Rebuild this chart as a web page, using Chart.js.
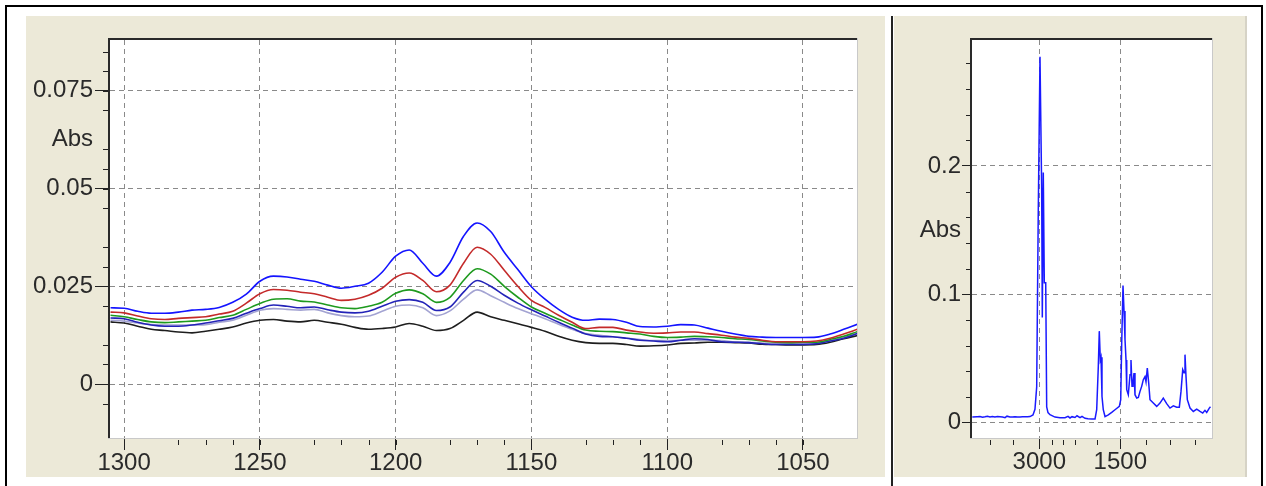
<!DOCTYPE html>
<html>
<head>
<meta charset="utf-8">
<script src="https://cdn.jsdelivr.net/npm/chart.js@4/dist/chart.umd.min.js"></script>
<style>
  body { margin: 0; background: #fff; width: 1266px; height: 486px; overflow: hidden; position: relative; }
  #frame { position: absolute; left: 5px; top: 5px; width: 1254px; height: 490px; border: 2px solid #000; }
  .panel { position: absolute; top: 16px; height: 461px; background: #ece9d8; }
  #leftPanel { left: 26px; width: 859px; }
  #rightPanel { left: 894px; width: 351px; border-right: 2px solid #d6d3c6; }
  #divider { position: absolute; left: 891px; top: 16px; width: 2px; height: 480px; background: #222; }
  canvas { position: absolute; left: 0; top: 0; }
</style>
</head>
<body>
<div id="frame"></div>
<div id="leftPanel" class="panel"><canvas id="zoomChart" width="859" height="461"></canvas></div>
<div id="divider"></div>
<div id="rightPanel" class="panel"><canvas id="fullChart" width="351" height="461"></canvas></div>
<script>
// ---- zoomed region (left pane) ----
const wavenumbers = [
  1305, 1300, 1295, 1290, 1285, 1280, 1275, 1270, 1265, 1260,
  1255, 1250, 1245, 1240, 1235, 1230, 1225, 1220, 1215, 1210,
  1205, 1200, 1195, 1190, 1185, 1180, 1175, 1170, 1165, 1160,
  1155, 1150, 1145, 1140, 1135, 1130, 1125, 1120, 1115, 1110,
  1105, 1100, 1095, 1090, 1085, 1080, 1075, 1070, 1065, 1060,
  1055, 1050, 1045, 1040, 1035, 1030
];
const absBlue = [
  0.0195, 0.0194, 0.0186, 0.0181, 0.0181, 0.0184, 0.0189, 0.0191, 0.0196, 0.0209,
  0.0230, 0.0263, 0.0276, 0.0274, 0.0268, 0.0263, 0.0253, 0.0245, 0.0250, 0.0258,
  0.0286, 0.0327, 0.0343, 0.0309, 0.0276, 0.0311, 0.0378, 0.0412, 0.0390, 0.0337,
  0.0293, 0.0249, 0.0217, 0.0191, 0.0171, 0.0163, 0.0166, 0.0165, 0.0158, 0.0147,
  0.0146, 0.0148, 0.0152, 0.0151, 0.0143, 0.0135, 0.0128, 0.0122, 0.0120, 0.0119,
  0.0119, 0.0119, 0.0120, 0.0128, 0.0140, 0.0153
];
const absRed = [
  0.0184, 0.0182, 0.0174, 0.0167, 0.0165, 0.0168, 0.0170, 0.0172, 0.0179, 0.0186,
  0.0207, 0.0231, 0.0242, 0.0240, 0.0235, 0.0231, 0.0222, 0.0214, 0.0217, 0.0227,
  0.0245, 0.0273, 0.0284, 0.0265, 0.0236, 0.0253, 0.0309, 0.0350, 0.0332, 0.0291,
  0.0250, 0.0214, 0.0196, 0.0176, 0.0158, 0.0142, 0.0145, 0.0145, 0.0138, 0.0133,
  0.0130, 0.0131, 0.0133, 0.0133, 0.0129, 0.0125, 0.0120, 0.0117, 0.0112, 0.0108,
  0.0108, 0.0108, 0.0110, 0.0117, 0.0128, 0.0140
];
const absGreen = [
  0.0176, 0.0172, 0.0165, 0.0159, 0.0157, 0.0159, 0.0161, 0.0163, 0.0170, 0.0176,
  0.0191, 0.0206, 0.0217, 0.0218, 0.0212, 0.0210, 0.0202, 0.0195, 0.0193, 0.0199,
  0.0209, 0.0232, 0.0241, 0.0231, 0.0209, 0.0222, 0.0265, 0.0295, 0.0281, 0.0250,
  0.0222, 0.0197, 0.0181, 0.0166, 0.0151, 0.0138, 0.0135, 0.0134, 0.0131, 0.0128,
  0.0122, 0.0119, 0.0120, 0.0122, 0.0121, 0.0119, 0.0116, 0.0114, 0.0110, 0.0107,
  0.0106, 0.0107, 0.0107, 0.0114, 0.0122, 0.0134
];
const absNavy = [
  0.0169, 0.0167, 0.0158, 0.0151, 0.0148, 0.0148, 0.0151, 0.0156, 0.0162, 0.0168,
  0.0181, 0.0193, 0.0202, 0.0199, 0.0195, 0.0197, 0.0190, 0.0184, 0.0182, 0.0186,
  0.0199, 0.0212, 0.0216, 0.0209, 0.0188, 0.0197, 0.0235, 0.0265, 0.0250, 0.0227,
  0.0207, 0.0190, 0.0174, 0.0158, 0.0143, 0.0128, 0.0122, 0.0121, 0.0117, 0.0112,
  0.0110, 0.0108, 0.0112, 0.0116, 0.0114, 0.0108, 0.0107, 0.0106, 0.0103, 0.0101,
  0.0101, 0.0101, 0.0103, 0.0110, 0.0117, 0.0129
];
const absLavender = [
  0.0163, 0.0161, 0.0156, 0.0152, 0.0151, 0.0151, 0.0151, 0.0152, 0.0158, 0.0163,
  0.0176, 0.0189, 0.0193, 0.0191, 0.0189, 0.0191, 0.0182, 0.0175, 0.0172, 0.0174,
  0.0186, 0.0199, 0.0202, 0.0195, 0.0175, 0.0187, 0.0217, 0.0241, 0.0226, 0.0209,
  0.0193, 0.0180, 0.0167, 0.0153, 0.0140, 0.0129, 0.0125, 0.0121, 0.0117, 0.0114,
  0.0111, 0.0111, 0.0112, 0.0112, 0.0112, 0.0111, 0.0108, 0.0107, 0.0105, 0.0104,
  0.0104, 0.0104, 0.0105, 0.0111, 0.0120, 0.0130
];
const absBlack = [
  0.0159, 0.0156, 0.0148, 0.0140, 0.0137, 0.0133, 0.0131, 0.0135, 0.0140, 0.0146,
  0.0156, 0.0163, 0.0165, 0.0161, 0.0159, 0.0163, 0.0158, 0.0153, 0.0145, 0.0140,
  0.0142, 0.0146, 0.0155, 0.0148, 0.0137, 0.0142, 0.0163, 0.0184, 0.0172, 0.0163,
  0.0154, 0.0145, 0.0135, 0.0122, 0.0112, 0.0106, 0.0104, 0.0104, 0.0101, 0.0097,
  0.0098, 0.0100, 0.0104, 0.0105, 0.0107, 0.0107, 0.0106, 0.0105, 0.0102, 0.0101,
  0.0100, 0.0100, 0.0101, 0.0107, 0.0116, 0.0124
];
const zoomXTicks = [1300, 1250, 1200, 1150, 1100, 1050];
const zoomXLabels = ['1300', '1250', '1200', '1150', '1100', '1050'];
const zoomYTicks = [0, 0.025, 0.05, 0.075];
const zoomYLabels = ['0', '0.025', '0.05', '0.075'];
const zoomUnitAt = 0.0625;

// ---- full spectrum (right pane) ----
const fullWavenumbers = [
  4240, 4150, 4098, 4050, 4005, 3960, 3913, 3870, 3821, 3775,
  3728, 3680, 3635, 3598, 3543, 3500, 3450, 3400, 3357, 3310,
  3265, 3220, 3172, 3117, 3080, 3048, 3019, 2987, 2956, 2944,
  2926, 2907, 2881, 2863, 2839, 2802, 2709, 2617, 2524, 2468,
  2431, 2394, 2339, 2302, 2246, 2209, 2153, 2098, 2024, 1968,
  1937, 1907, 1889, 1870, 1857, 1839, 1815, 1783, 1722, 1659,
  1598, 1518, 1492, 1474, 1450, 1431, 1413, 1394, 1381, 1352,
  1320, 1302, 1283, 1265, 1246, 1228, 1196, 1166, 1135, 1104,
  1074, 1043, 1024, 1000, 974, 950, 889, 826, 765, 704,
  641, 580, 518, 455, 407, 376, 344, 320, 302, 283,
  259, 209, 148, 85, 24, -26, -68, -100, -148, -170
];
const fullAbs = [
  0.0045, 0.0048, 0.0050, 0.0044, 0.0047, 0.0052, 0.0046, 0.0050, 0.0045, 0.0049,
  0.0047, 0.0045, 0.0040, 0.0052, 0.0045, 0.0046, 0.0047, 0.0045, 0.0046, 0.0047,
  0.0047, 0.0048, 0.0049, 0.0062, 0.0105, 0.0280, 0.1640, 0.2850, 0.1820, 0.0820,
  0.1950, 0.1090, 0.1090, 0.0125, 0.0080, 0.0063, 0.0045, 0.0040, 0.0040, 0.0050,
  0.0038, 0.0048, 0.0042, 0.0055, 0.0040, 0.0050, 0.0035, 0.0032, 0.0030, 0.0030,
  0.0102, 0.0440, 0.0714, 0.0490, 0.0510, 0.0206, 0.0102, 0.0049, 0.0062, 0.0081,
  0.0102, 0.0128, 0.0180, 0.0620, 0.1070, 0.0870, 0.0650, 0.0490, 0.0258, 0.0219,
  0.0375, 0.0490, 0.0284, 0.0310, 0.0388, 0.0219, 0.0193, 0.0198, 0.0245, 0.0284,
  0.0336, 0.0360, 0.0320, 0.0427, 0.0310, 0.0180, 0.0154, 0.0128, 0.0154, 0.0193,
  0.0150, 0.0115, 0.0133, 0.0122, 0.0122, 0.0245, 0.0414, 0.0390, 0.0531, 0.0360,
  0.0180, 0.0115, 0.0089, 0.0107, 0.0089, 0.0076, 0.0097, 0.0081, 0.0115, 0.0125
];
const fullXTicks = [3000, 1500];
const fullXLabels = ['3000', '1500'];
const fullXMinor = [3907, 3481, 2759, 2556, 2333, 1926, 1018, 574, 111];
const fullYTicks = [0, 0.1, 0.2];
const fullYLabels = ['0', '0.1', '0.2'];
const fullUnitAt = 0.15;

Chart.defaults.font.family = '"Liberation Sans", Arial, sans-serif';
Chart.defaults.font.size = 24;
Chart.defaults.color = '#2a2a2a';

function labeler(values, labels, unitAt) {
  return (v) => {
    if (Math.abs(v - unitAt) < 1e-9) return 'Abs';
    const i = values.findIndex(t => Math.abs(t - v) < 1e-9);
    return i < 0 ? '' : labels[i];
  };
}

function steps(from, to, step, skipEvery) {
  const out = [];
  for (let k = 0; from + k * step <= to + 1e-9; k++) {
    if (k % skipEvery !== 0) out.push(+(from + k * step).toFixed(4));
  }
  return out;
}

// white plot area, sunken frame and the short minor ticks
const panelPlugin = {
  id: 'panel',
  beforeDraw(chart) {
    const a = chart.chartArea, ctx = chart.ctx;
    ctx.save();
    ctx.fillStyle = '#fff';
    ctx.fillRect(a.left, a.top, a.right - a.left, a.bottom - a.top);
    ctx.restore();
  },
  afterDraw(chart, args, opts) {
    const a = chart.chartArea, ctx = chart.ctx;
    const xs = chart.scales.x, ys = chart.scales.y;
    ctx.save();
    ctx.fillStyle = '#c9c9c9';
    ctx.fillRect(a.right, a.top - 2, 1, a.bottom - a.top + 3);
    ctx.fillRect(a.left - 2, a.bottom, a.right - a.left + 3, 1);
    ctx.fillStyle = '#2a2a2a';
    ctx.fillRect(a.left - 2, a.top - 2, a.right - a.left + 2, 2);
    ctx.fillRect(a.left - 2, a.top - 2, 2, a.bottom - a.top + 2);
    ctx.strokeStyle = '#222';
    ctx.lineWidth = 1;
    ctx.beginPath();
    opts.yMinor.forEach(v => {
      const y = Math.round(ys.getPixelForValue(v)) + 0.5;
      ctx.moveTo(a.left - 2 - opts.yLen, y);
      ctx.lineTo(a.left - 2, y);
    });
    opts.xMinor.forEach(v => {
      const x = Math.round(xs.getPixelForValue(v)) + 0.5;
      ctx.moveTo(x, a.bottom + 2);
      ctx.lineTo(x, a.bottom + 2 + opts.xLen);
    });
    ctx.stroke();
    ctx.restore();
  }
};

function axes(cfg) {
  const hideUnit = (color) => (c) => (c.tick && Math.abs(c.tick.value - cfg.unitAt) < 1e-9) ? 'rgba(0,0,0,0)' : color;
  return {
    x: {
      type: 'linear', reverse: true, min: cfg.xMin, max: cfg.xMax,
      afterBuildTicks: s => { s.ticks = cfg.xTicks.map(v => ({ value: v })); },
      afterFit: s => { s.height = cfg.xHeight; },
      ticks: { autoSkip: false, maxRotation: 0, padding: cfg.xPad, callback: labeler(cfg.xTicks, cfg.xLabels, NaN) },
      grid: { color: '#8a8a8a', lineWidth: 1, tickLength: cfg.xTickLen, tickColor: '#222', tickBorderDash: [] },
      border: { display: false, dash: [5, 4] }
    },
    y: {
      type: 'linear', min: cfg.yMin, max: cfg.yMax,
      afterBuildTicks: s => { s.ticks = cfg.yTicks.concat([cfg.unitAt]).sort((p, q) => p - q).map(v => ({ value: v })); },
      afterFit: s => { s.width = cfg.yWidth; },
      ticks: { autoSkip: false, padding: cfg.yPad, callback: labeler(cfg.yTicks, cfg.yLabels, cfg.unitAt) },
      grid: { color: hideUnit('#8a8a8a'), lineWidth: 1, tickLength: cfg.yTickLen, tickColor: hideUnit('#222'), tickBorderDash: [] },
      border: { display: false, dash: [5, 4] }
    }
  };
}

const zoomSeries = [absBlue, absRed, absGreen, absNavy, absLavender, absBlack];
const zoomColors = ['#1414ff', '#c42a2a', '#1e9a1e', '#2323b8', '#a3a3d2', '#1e1e1e'];

new Chart(document.getElementById('zoomChart'), {
  type: 'line',
  data: {
    datasets: zoomSeries.map((s, i) => ({
      data: wavenumbers.map((w, j) => ({ x: w, y: s[j] })),
      borderColor: zoomColors[i], borderWidth: 1.6, pointRadius: 0,
      cubicInterpolationMode: 'monotone', fill: false
    }))
  },
  options: {
    responsive: false, animation: false, events: [],
    layout: { padding: { top: 24, right: 28, left: 0, bottom: 0 } },
    plugins: {
      legend: { display: false }, tooltip: { enabled: false },
      panel: { yMinor: steps(-0.01, 0.085, 0.005, 5), xMinor: steps(1040, 1300, 10, 5), yLen: 5, xLen: 5 }
    },
    scales: axes({
      xMin: 1030.1, xMax: 1305.2, xTicks: zoomXTicks, xLabels: zoomXLabels, xHeight: 39, xPad: -1, xTickLen: 12,
      yMin: -0.0138, yMax: 0.088, yTicks: zoomYTicks, yLabels: zoomYLabels, yWidth: 84, yPad: 2, yTickLen: 15,
      unitAt: zoomUnitAt
    })
  },
  plugins: [panelPlugin]
});

new Chart(document.getElementById('fullChart'), {
  type: 'line',
  data: {
    datasets: [{
      data: fullWavenumbers.map((w, j) => ({ x: w, y: fullAbs[j] })),
      borderColor: '#1a1aff', borderWidth: 1.5, pointRadius: 0, tension: 0, fill: false
    }]
  },
  options: {
    responsive: false, animation: false, events: [],
    layout: { padding: { top: 24, right: 33, left: 0, bottom: 0 } },
    plugins: {
      legend: { display: false }, tooltip: { enabled: false },
      panel: { yMinor: steps(0, 0.28, 0.02, 5), xMinor: fullXMinor, yLen: 4, xLen: 5 }
    },
    scales: axes({
      xMin: -198, xMax: 4246, xTicks: fullXTicks, xLabels: fullXLabels, xHeight: 39, xPad: -1, xTickLen: 11,
      yMin: -0.0118, yMax: 0.2981, yTicks: fullYTicks, yLabels: fullYLabels, yWidth: 78, yPad: 1, yTickLen: 10,
      unitAt: fullUnitAt
    })
  },
  plugins: [panelPlugin]
});
</script>
</body>
</html>
